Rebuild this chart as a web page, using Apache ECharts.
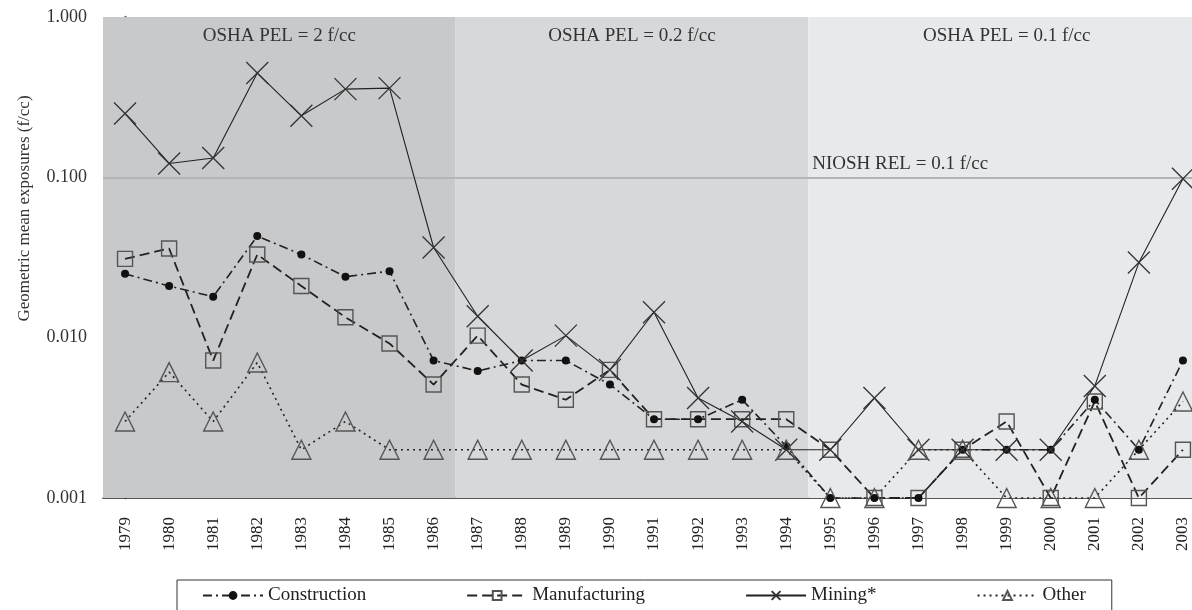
<!DOCTYPE html>
<html>
<head>
<meta charset="utf-8">
<script src="https://cdn.jsdelivr.net/npm/echarts@6/dist/echarts.min.js"></script>
<style>
  html, body { margin: 0; padding: 0; background: #fff; }
  #chart { width: 1192px; height: 610px; }
</style>
</head>
<body>
<div id="chart"></div>
<script>
var years = ['1979','1980','1981','1982','1983','1984','1985','1986','1987','1988','1989','1990',
  '1991','1992','1993','1994','1995','1996','1997','1998','1999','2000','2001','2002','2003']

var construction = [0.025, 0.021, 0.018, 0.043, 0.033, 0.024, 0.026, 0.0072, 0.0062, 0.0072, 0.0072, 0.0051,
  0.0031, 0.0031, 0.0041, 0.0021, 0.001, 0.001, 0.001, 0.002, 0.002, 0.002, 0.0041, 0.002, 0.0072]
var manufacturing = [0.031, 0.036, 0.0072, 0.033, 0.021, 0.0134, 0.0092, 0.0051, 0.0103, 0.0051, 0.0041, 0.0063,
  0.0031, 0.0031, 0.0031, 0.0031, 0.002, 0.001, 0.001, 0.002, 0.003, 0.001, 0.004, 0.001, 0.002]
var mining = [0.25, 0.122, 0.132, 0.447, 0.242, 0.355, 0.36, 0.0365, 0.0136, 0.0072, 0.0103, 0.0063,
  0.0144, 0.0042, 0.003, 0.002, 0.002, 0.0042, 0.002, 0.002, 0.002, 0.002, 0.005, 0.0294, 0.098]
var other = [0.003, 0.0061, 0.003, 0.007, 0.002, 0.003, 0.002, 0.002, 0.002, 0.002, 0.002, 0.002,
  0.002, 0.002, 0.002, 0.002, 0.001, 0.001, 0.002, 0.002, 0.001, 0.001, 0.001, 0.002, 0.004]

// regulatory periods, as index ranges on the year axis
var periods = [
  { label: 'OSHA PEL = 2 f/cc', from: -0.5, to: 7.5, color: '#c8c9cb' },
  { label: 'OSHA PEL = 0.2 f/cc', from: 7.5, to: 15.5, color: '#d7d8da' },
  { label: 'OSHA PEL = 0.1 f/cc', from: 15.5, to: 24.5, color: '#e8e9eb' }
]
var nioshRel = 0.1

var serif = 'Liberation Serif'
var chart = echarts.init(document.getElementById('chart'))

function lineSeries(name, data, dash, symbol, size, itemStyle, width) {
  return {
    name: name,
    type: 'line',
    data: data,
    symbol: symbol,
    symbolSize: size,
    clip: false,
    z: 5,
    lineStyle: { color: '#222', width: width, type: dash },
    itemStyle: itemStyle
  }
}

var option = {
  animation: false,
  backgroundColor: '#fff',
  textStyle: { fontFamily: serif },
  // plot runs past the right edge of the picture, as in the original
  grid: { left: 103, top: 17, width: 1102, height: 481, outerBoundsMode: 'none', containLabel: false },
  legend: {
    data: ['Construction', 'Manufacturing', 'Mining*', 'Other'],
    left: 177,
    top: 580,
    padding: [6, 26, 14, 25],
    itemGap: 100,
    itemWidth: 60,
    itemHeight: 11,
    borderColor: '#333',
    borderWidth: 1,
    borderRadius: 0,
    textStyle: { fontFamily: serif, fontSize: 19, color: '#222' }
  },
  xAxis: [{
    type: 'category',
    data: years,
    boundaryGap: true,
    axisLine: { lineStyle: { color: '#222', width: 1.5 } },
    axisTick: { show: false },
    axisLabel: { rotate: 90, fontFamily: serif, fontSize: 17, color: '#222', margin: 19 }
  }, {
    type: 'value',
    min: -0.5,
    max: 24.5,
    show: false
  }],
  yAxis: {
    type: 'log',
    logBase: 10,
    min: 0.001,
    max: 1,
    name: 'Geometric mean exposures (f/cc)',
    nameLocation: 'middle',
    nameGap: 70,
    nameTextStyle: { fontFamily: serif, fontSize: 17, color: '#333', padding: [0, 0, 0, 98] },
    axisLine: { show: true, lineStyle: { color: '#666', width: 2.5 } },
    axisTick: { show: false },
    splitLine: { show: false },
    axisLabel: {
      fontFamily: serif, fontSize: 18, color: '#333', margin: 16,
      formatter: function (v) { return v.toFixed(3) }
    }
  },
  series: [
    {
      name: 'bands',
      type: 'line',
      xAxisIndex: 1,
      data: [],
      silent: true,
      z: 1,
      markArea: {
        silent: true,
        data: periods.map(function (p) {
          return [{
            xAxis: p.from, yAxis: 1,
            itemStyle: { color: p.color },
            label: {
              show: true, formatter: p.label, position: 'insideTop', distance: 10,
              fontFamily: serif, fontSize: 19, color: '#333'
            }
          }, { xAxis: p.to, yAxis: 0.001 }]
        })
      },
      markLine: {
        silent: true,
        symbol: 'none',
        lineStyle: { color: '#b4b5b7', width: 2, type: 'solid' },
        data: [
          { yAxis: nioshRel, label: { show: false } },
          [{
            coord: [periods[2].from, nioshRel],
            label: {
              show: true, formatter: 'NIOSH REL = 0.1 f/cc', position: 'insideStartTop',
              distance: 4, fontFamily: serif, fontSize: 19, color: '#333'
            }
          }, { coord: [periods[2].to, nioshRel] }]
        ]
      }
    },
    lineSeries('Construction', construction, [9, 4, 2, 4], 'circle', 8,
      { color: '#111', borderColor: '#111', borderWidth: 0 }, 1.6),
    lineSeries('Manufacturing', manufacturing, [10, 5], 'rect', 15,
      { color: 'rgba(0,0,0,0)', borderColor: '#555', borderWidth: 1.4 }, 1.8),
    lineSeries('Mining*', mining, 'solid', 'path://M0 0L20 20M20 0L0 20', 22,
      { color: 'rgba(0,0,0,0)', borderColor: '#333', borderWidth: 1.3 }, 1.1),
    lineSeries('Other', other, [2, 4], 'triangle', 19,
      { color: 'rgba(0,0,0,0)', borderColor: '#555', borderWidth: 1.4 }, 1.6)
  ]
}

chart.setOption(option)
</script>
</body>
</html>
